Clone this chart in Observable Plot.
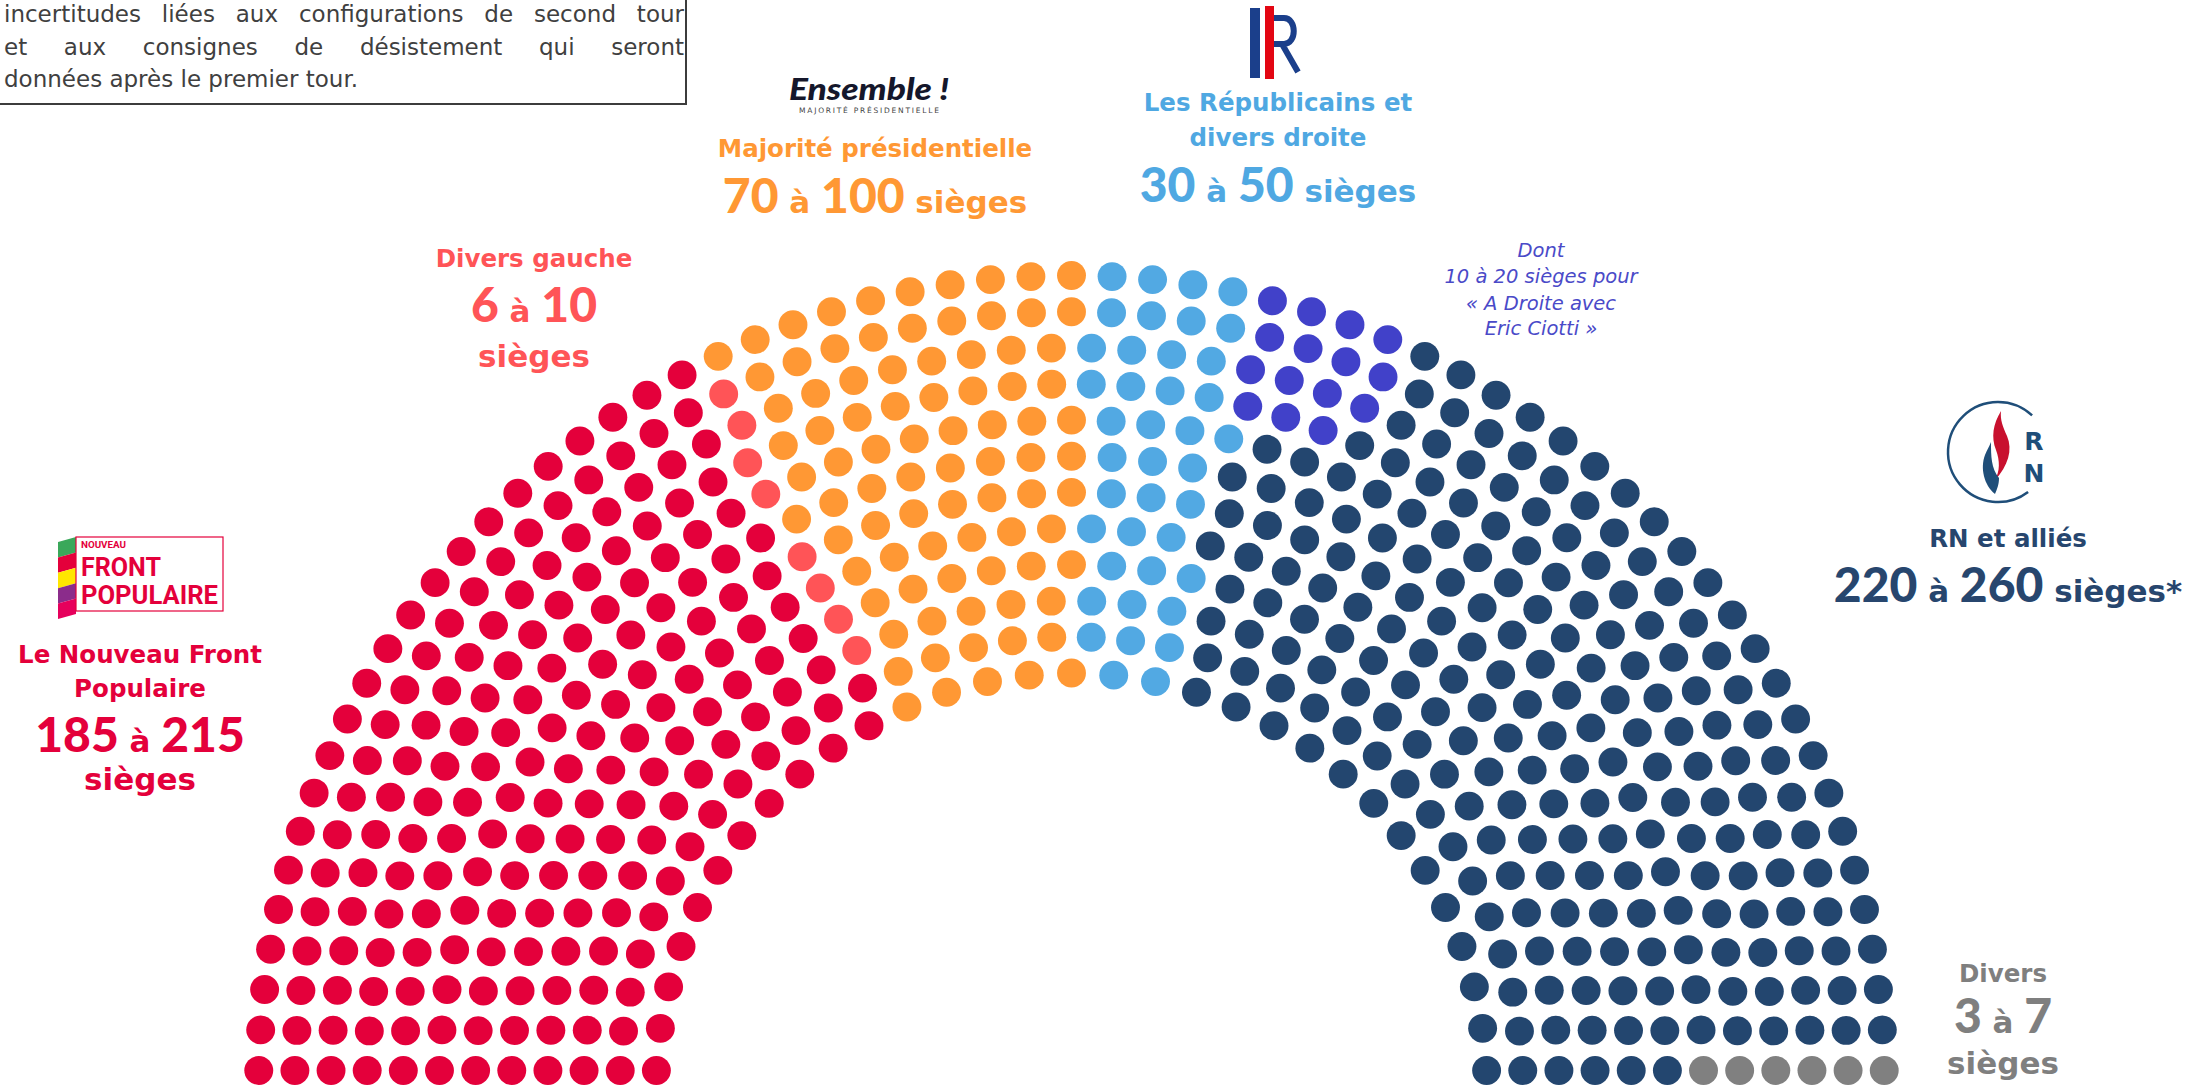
<!DOCTYPE html>
<html>
<head>
<meta charset="utf-8">
<script src="https://cdn.jsdelivr.net/npm/d3@7"></script>
<script src="https://cdn.jsdelivr.net/npm/@observablehq/plot@0.6"></script>
<style>
  html, body { margin: 0; padding: 0; background: #fff; }
  #wrap { position: relative; width: 2211px; height: 1086px; overflow: hidden; background: #fff; }
  #chart { position: absolute; left: 0; top: 0; }
  #overlay { position: absolute; left: 0; top: 0; pointer-events: none; }
  .note { position: absolute; left: -4px; top: -40px; width: 691px; height: 145px; box-sizing: border-box;
          border: 2px solid #3c3c3c; background: #fff; }
  .note .txt { position: absolute; left: 6px; top: 36px; width: 680px; font-family: "DejaVu Sans", sans-serif;
          font-size: 23px; line-height: 32.5px; color: #404040; }
  .note .j { text-align: justify; text-align-last: justify; white-space: nowrap; }
</style>
</head>
<body>
<div id="wrap">
  <div id="chart"></div>
  <svg id="overlay" width="2211" height="1086" xmlns="http://www.w3.org/2000/svg"></svg>
  <div class="note"><div class="txt">
    <div class="j">incertitudes liées aux configurations de second tour</div>
    <div class="j">et aux consignes de désistement qui seront</div>
    <div>données après le premier tour.</div>
  </div></div>
</div>
<script>
// ---------------- DATA ----------------
const parties = ["Le Nouveau Front Populaire", "Divers gauche", "Majorité présidentielle",
                 "Les Républicains et divers droite", "RN et alliés", "Divers"];
const seats = [199, 8, 85, 40, 239, 6];               // seats drawn per group (total 577)
const seatColors = ["#E4003B", "#FF5457", "#FF9834", "#52A9E3", "#23466F", "#808080"];
const labelColors = ["#E4003B", "#FF5457", "#FF9834", "#4FA8E2", "#27466E", "#7F7F7F"];
const partyLabels = [["Le Nouveau Front", "Populaire"], ["Divers gauche"], ["Majorité présidentielle"],
                     ["Les Républicains et", "divers droite"], ["RN et alliés"], ["Divers"]];
const lowSeats = [185, 6, 70, 30, 220, 3];
const highSeats = [215, 10, 100, 50, 260, 7];
const suffixes = ["", "", "", "", "*", ""];
const seatsPerRow = [31, 36, 38, 41, 44, 47, 49, 53, 56, 58, 61, 63]; // inner -> outer
const ciottiName = "A Droite avec Eric Ciotti";
const ciottiSeatsPerRow = [0, 0, 0, 0, 0, 0, 0, 0, 3, 4, 4, 4];
const ciottiColor = "#4141C9";
const ciottiLow = 10, ciottiHigh = 20;

// ---------------- LAYOUT (hemicycle) ----------------
const nRows = seatsPerRow.length;
const rad = 1 / (4 * nRows - 2);
const seatList = [];
seatsPerRow.forEach((J, r) => {
  const R = 0.5 + 2 * r * rad;
  const m = Math.asin(rad / R);
  const inc = (Math.PI - 2 * m) / (J - 1);
  for (let s = 0; s < J; s++) {
    const a = m + s * inc;
    seatList.push({row: r, a, x: R * Math.cos(a), y: R * Math.sin(a)});
  }
});
seatList.sort((p, q) => (q.a - p.a) || (p.row - q.row));
let k = 0;
parties.forEach((p, i) => { for (let j = 0; j < seats[i]; j++) seatList[k++].party = p; });
ciottiSeatsPerRow.forEach((c, r) => {
  seatList.filter(d => d.row === r && d.party === parties[4])
    .sort((p, q) => q.a - p.a).slice(0, c).forEach(d => d.party = ciottiName);
});

const W = 2211, H = 1086, unit = 831, cx = 1071, cy = 1088;
const chart = Plot.plot({
  width: W, height: H, margin: 0,
  style: {background: "transparent"},
  x: {domain: [-cx / unit, (W - cx) / unit], range: [0, W], axis: null},
  y: {domain: [0, cy / unit], range: [cy, 0], axis: null},
  color: {domain: [...parties, ciottiName], range: [...seatColors, ciottiColor]},
  marks: [
    Plot.dot(seatList, {x: "x", y: "y", r: 0.8 * rad * unit, fill: "party", stroke: null})
  ]
});
document.getElementById("chart").appendChild(chart);

// ---------------- LABELS ----------------
const ov = d3.select("#overlay");
const labelPos = [
  {cx: 140, names: [663, 697], num: 752, siegesLine: 790},
  {cx: 534, names: [267], num: 322, siegesLine: 367},
  {cx: 875, names: [157], num: 213},
  {cx: 1278, names: [111, 146], num: 202},
  {cx: 2008, names: [547], num: 602},
  {cx: 2003, names: [982], num: 1033, siegesLine: 1074}
];
const LBL = {family: "DejaVu Sans", size: 24.5};
parties.forEach((p, i) => {
  const L = labelPos[i];
  const g = ov.append("g").attr("fill", labelColors[i]).attr("text-anchor", "middle")
    .attr("font-weight", "bold");
  partyLabels[i].forEach((line, j) => g.append("text").attr("x", L.cx).attr("y", L.names[j])
    .attr("font-family", LBL.family).attr("font-size", LBL.size).text(line));
  const t = g.append("text").attr("x", L.cx).attr("y", L.num).style("white-space", "pre");
  t.append("tspan").attr("font-family", "Lato").attr("font-weight", 900).attr("font-size", 48).text(lowSeats[i]);
  t.append("tspan").attr("font-family", LBL.family).attr("font-size", 31).text(" à ");
  t.append("tspan").attr("font-family", "Lato").attr("font-weight", 900).attr("font-size", 48).text(highSeats[i]);
  if (L.siegesLine) {
    g.append("text").attr("x", L.cx).attr("y", L.siegesLine).attr("font-family", LBL.family)
      .attr("font-size", 31).text("sièges" + suffixes[i]);
  } else {
    t.append("tspan").attr("font-family", LBL.family).attr("font-size", 31).text(" sièges" + suffixes[i]);
  }
});

// Ciotti note
const cg = ov.append("g").attr("fill", "#4A4AC8").attr("text-anchor", "middle")
  .attr("font-family", "DejaVu Sans").attr("font-style", "italic").attr("font-size", 19.5);
["Dont", `${ciottiLow} à ${ciottiHigh} sièges pour`, "« A Droite avec", "Eric Ciotti »"]
  .forEach((s, j) => cg.append("text").attr("x", 1541).attr("y", [257, 283, 310, 335][j]).text(s));

// ---------------- LOGOS ----------------
// Nouveau Front Populaire
const nfp = ov.append("g");
["#3AA85A", "#E4003B", "#FFE600", "#8B2C8B", "#E6005C"].forEach((c, j) => {
  const h = 15.4, yr = 537 + j * h;
  nfp.append("polygon").attr("points", `58,${yr + 5} 76,${yr} 76,${yr + h} 58,${yr + h + 5}`).attr("fill", c);
});
nfp.append("rect").attr("x", 76).attr("y", 537).attr("width", 147).attr("height", 74)
  .attr("fill", "#fff").attr("stroke", "#E4003B").attr("stroke-width", 1.2);
const nfpText = nfp.append("text").attr("font-family", "Liberation Sans Narrow, Roboto, sans-serif")
  .attr("font-weight", "bold").attr("fill", "#E4003B");
[["NOUVEAU", 548, 9, 45], ["FRONT", 576, 25, 80], ["POPULAIRE", 604, 25, 137]]
  .forEach(([s, y, fs, len]) => nfpText.append("tspan").attr("x", 81).attr("y", y)
    .attr("font-size", fs).attr("textLength", len).attr("lengthAdjust", "spacingAndGlyphs").text(s));

// Ensemble
const ens = ov.append("text").attr("x", 869).attr("text-anchor", "middle").attr("fill", "#15172B");
ens.append("tspan").attr("x", 869).attr("y", 100).attr("font-family", "Lato").attr("font-weight", 900)
  .attr("font-style", "italic").attr("font-size", 30).attr("textLength", 160)
  .attr("lengthAdjust", "spacingAndGlyphs").text("Ensemble !");
ens.append("tspan").attr("x", 869).attr("y", 113).attr("font-family", "DejaVu Sans")
  .attr("font-size", 7.5).attr("fill", "#444").attr("textLength", 140)
  .attr("lengthAdjust", "spacing").text("MAJORITÉ PRÉSIDENTIELLE");

// LR
const lr = ov.append("g");
lr.append("rect").attr("x", 1250).attr("y", 8).attr("width", 10).attr("height", 70).attr("fill", "#1B3F8B");
lr.append("path").attr("d", "M1270,18 H1284 C1297,18 1297,44 1284,44 H1270 M1282,44 L1298,72")
  .attr("fill", "none").attr("stroke", "#1B3F8B").attr("stroke-width", 6);
lr.append("rect").attr("x", 1265).attr("y", 6).attr("width", 9).attr("height", 73).attr("fill", "#E30613");

// RN
const rn = ov.append("g");
rn.append("path").attr("d", "M2032.1,415.4 A50,50 0 1 0 2028.1,491.9")
  .attr("fill", "none").attr("stroke", "#1F4E79").attr("stroke-width", 2.5);
rn.append("path").attr("d", "M1995,480 C2008,466 2013,450 2007,436 C2003,427 2000,420 2001,411 C1993,424 1991,437 1996,450 C2000,461 2000,471 1995,480 Z")
  .attr("fill", "#C8102E");
rn.append("path").attr("d", "M1995,494 C1984,485 1980,468 1985,455 C1987,450 1989,447 1991,442 C1991,456 1991,468 1999,478 C1999,485 1997,489 1995,494 Z")
  .attr("fill", "#1F4E79");
const rnText = rn.append("text").attr("text-anchor", "middle").attr("font-family", "DejaVu Sans")
  .attr("font-weight", "bold").attr("font-size", 25).attr("fill", "#1F4E79");
rnText.append("tspan").attr("x", 2034).attr("y", 450).text("R");
rnText.append("tspan").attr("x", 2034).attr("y", 482).text("N");
</script>
</body>
</html>
